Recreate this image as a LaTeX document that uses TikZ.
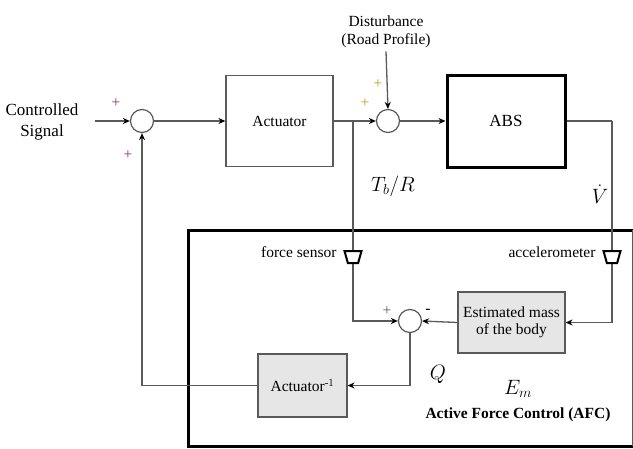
\documentclass[tikz,border=0pt]{standalone}
\usepackage{amsmath}
\usepackage{fontspec}
\setmainfont{Liberation Serif}
\usepackage{tikz}
\usetikzlibrary{arrows.meta,shapes.geometric}
\definecolor{linegray}{HTML}{5A5A5A}
\definecolor{boxgray}{HTML}{E6E6E6}
\definecolor{plusmag}{HTML}{8E2D6E}
\definecolor{plusgold}{HTML}{C89B12}
\tikzset{
  sumnode/.style={circle,draw=linegray,line width=1.2pt,minimum size=23pt,inner sep=0pt},
  plainbox/.style={rectangle,draw=linegray,line width=1.2pt,inner sep=2pt},
  graybox/.style={rectangle,draw=linegray,fill=boxgray,line width=1.2pt,align=center,inner sep=2pt},
  sensor/.style={trapezium,trapezium angle=72,shape border rotate=180,draw=black,fill=white,
    line width=2pt,trapezium stretches=true,minimum height=12pt,minimum width=17pt,inner sep=1pt},
  conn/.style={draw=linegray,line width=1.3pt,-{Stealth[length=7pt,width=6pt,black]}},
  wire/.style={draw=linegray,line width=1.3pt},
  mathlbl/.style={font=\fontsize{21}{24}\selectfont}
}
\begin{document}
\begin{tikzpicture}[x=1pt,y=-1pt,font=\fontsize{15.5}{17.5}\selectfont]
    \useasboundingbox (0,0) rectangle (633,448);

    % active force control frame
    \draw[line width=3pt] (633,230) -- (188,230) -- (188,446) -- (633,446);
    \draw[linegray,line width=0.8pt] (632.5,230) -- (632.5,446);

    \node[align=center,font=\fontsize{17}{21}\selectfont] (sig) at (42,122) {Controlled\\Signal};
    \coordinate (in) at (95,121);
    \node[sumnode] (sum1) at (142,121) {};
    \node[plainbox,minimum width=107pt,minimum height=91pt] (act) at (279.5,121) {Actuator};
    \coordinate (br) at (353,121);
    \node[sumnode] (sum2) at (388,121) {};
    \node[align=center] (dist) at (386,32) {Disturbance\\(Road Profile)};
    \node[rectangle,draw=black,line width=3pt,minimum width=118pt,minimum height=92pt,
      font=\fontsize{17}{20}\selectfont] (abs) at (506,121) {ABS};
    \coordinate (corner) at (612,121);

    \node[sumnode] (sum3) at (410,321) {};
    \node[graybox,minimum width=107pt,minimum height=61pt] (est) at (511.5,322.5) {Estimated mass\\of the body};
    \node[graybox,minimum width=89pt,minimum height=63pt] (inv) at (302.5,385.5) {Actuator$^{\text{-}1}$};

    % connectors
    \draw[conn] (in) -- (sum1.west);
    \draw[conn] (sum1.east) -- (act.west);
    \draw[conn] (act.east) -- (sum2.west);
    \draw[conn] (dist.south) -- (sum2.north);
    \draw[conn] (sum2.east) -- (abs.west);
    \draw[wire] (abs.east) -- (corner);
    \draw[conn] (corner) |- (est.east);
    \draw[conn] (br) |- (sum3.west);
    \draw[conn] (est.west) -- (sum3.east);
    \draw[conn] (sum3.south) |- (inv.east);
    \draw[conn] (inv.west) -| (sum1.south);

    % sensors
    \node[sensor] (fs) at (353,257) {};
    \node[anchor=east] (fslbl) at (340,252) {force sensor};
    \node[sensor] (acc) at (612,257) {};
    \node[anchor=east] (acclbl) at (599,252) {accelerometer};

    % signs
    \node[plusmag] (p1) at (116,103) {+};
    \node[plusmag] (p2) at (128,155) {+};
    \node[plusgold] (p3) at (378,84) {+};
    \node[plusgold] (p4) at (365,103) {+};
    \node[linegray] (p5) at (387,311) {+};
    \node (m1) at (428,311) {-};

    % labels
    \node[mathlbl] (tb) at (393,186) {$T_b/R$};
    \node[mathlbl,inner sep=1pt] (vd) at (600,194) {$\dot{V}$};
    \node[mathlbl] (q) at (438,374) {$Q$};
    \node[mathlbl] (em) at (518,389) {$E_m$};
    \node[font=\fontsize{15.5}{17.5}\selectfont\bfseries] (afc) at (518,415) {Active Force Control (AFC)};
\end{tikzpicture}
\end{document}
